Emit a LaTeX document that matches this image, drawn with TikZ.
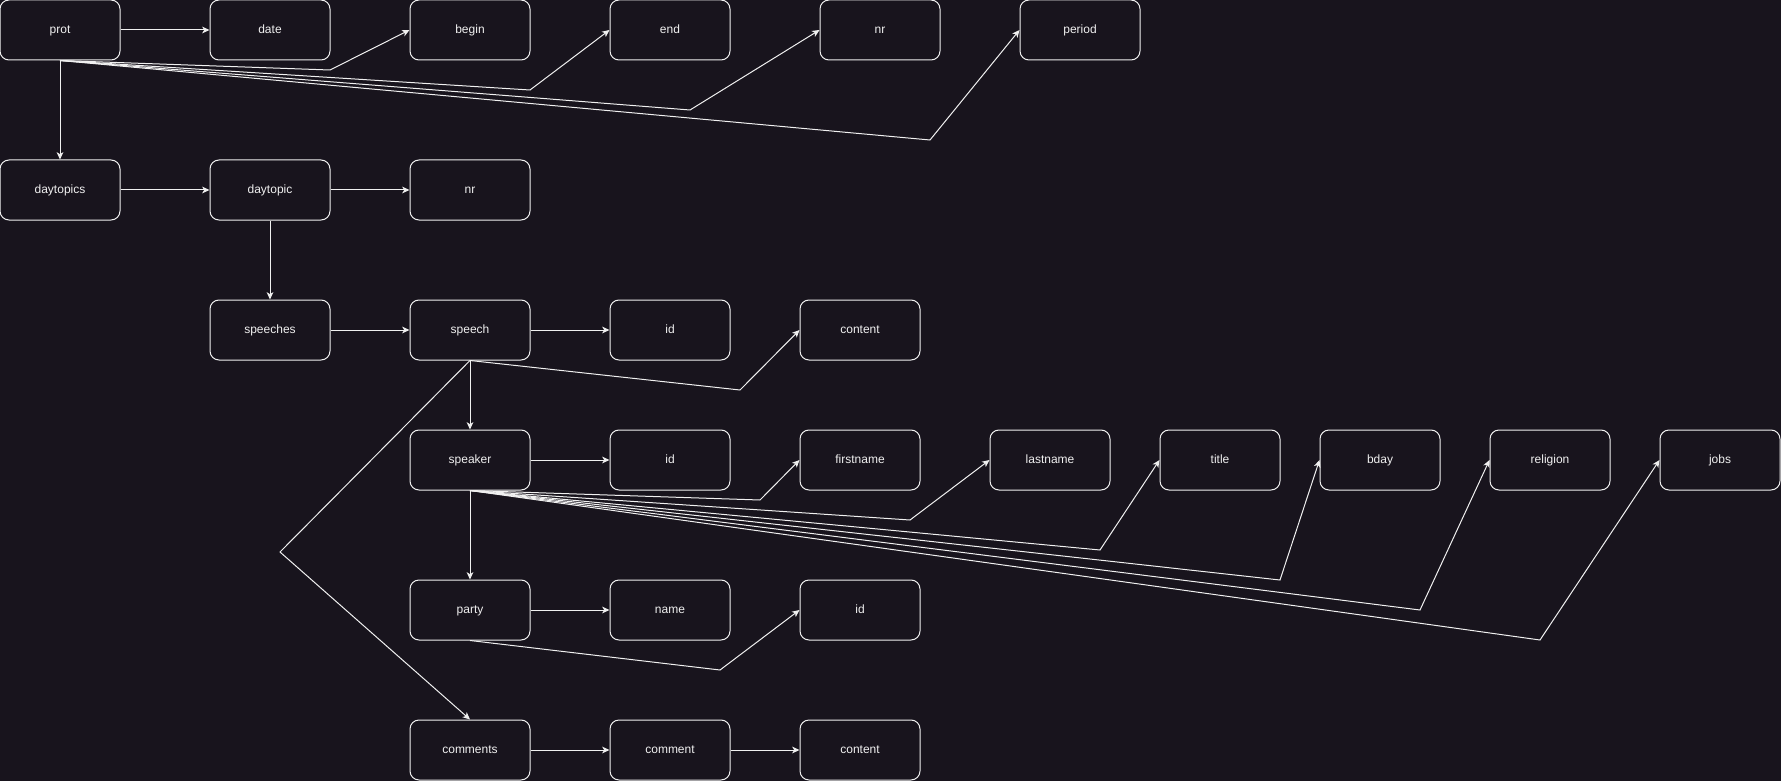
\documentclass[tikz,border=0pt]{standalone}
\usepackage{fontspec}
\setmainfont{Liberation Sans}
\usepackage{tikz}
\usetikzlibrary{arrows.meta}

\definecolor{canvas}{HTML}{18141D}
\definecolor{ink}{HTML}{F0F0F0}

\tikzset{
  field/.style={draw=ink, fill=canvas, text=ink, rounded corners=6.75pt,
    minimum width=90pt, minimum height=45pt, inner sep=0pt,
    text height=1.45ex, text depth=.4ex,
    line width=0.75pt, font=\fontsize{9}{11}\selectfont},
  link/.style={->, draw=ink, line width=0.75pt},
}

\begin{document}
\begin{tikzpicture}[>={Stealth[length=5.5pt,width=5pt,inset=1.5pt]}, x=0.75pt, y=-0.75pt]
        \useasboundingbox (0,0) rectangle (1781,781);
        \fill[canvas] (0,0) rectangle (1781,781);
        % protocol
        \node[field] (prot)      at (60,30)   {prot};
        \node[field] (date)      at (270,30)  {date};
        \node[field] (pbegin)    at (470,30)  {begin};
        \node[field] (pend)      at (670,30)  {end};
        \node[field] (protnr)    at (880,30)  {nr};
        \node[field] (period)    at (1080,30) {period};
        % day topics
        \node[field] (daytopics) at (60,190)  {daytopics};
        \node[field] (daytopic)  at (270,190) {daytopic};
        \node[field] (topicnr)   at (470,190) {nr};
        % speeches
        \node[field] (speeches)  at (270,330) {speeches};
        \node[field] (speech)    at (470,330) {speech};
        \node[field] (speechid)  at (670,330) {id};
        \node[field] (speechtxt) at (860,330) {content};
        % speaker
        \node[field] (speaker)   at (470,460)  {speaker};
        \node[field] (spkid)     at (670,460)  {id};
        \node[field] (firstname) at (860,460)  {firstname};
        \node[field] (lastname)  at (1050,460) {lastname};
        \node[field] (title)     at (1220,460) {title};
        \node[field] (bday)      at (1380,460) {bday};
        \node[field] (religion)  at (1550,460) {religion};
        \node[field] (jobs)      at (1720,460) {jobs};
        % party
        \node[field] (party)     at (470,610) {party};
        \node[field] (partyname) at (670,610) {name};
        \node[field] (partyid)   at (860,610) {id};
        % comments
        \node[field] (comments)   at (470,750) {comments};
        \node[field] (comment)    at (670,750) {comment};
        \node[field] (commenttxt) at (860,750) {content};

        \draw[link] (prot) -- (date);
        \draw[link] (prot.south) -- (330,70) -- (pbegin.west);
        \draw[link] (prot.south) -- (530,90) -- (pend.west);
        \draw[link] (prot.south) -- (690,110) -- (protnr.west);
        \draw[link] (prot.south) -- (930,140) -- (period.west);
        \draw[link] (prot) -- (daytopics);
        \draw[link] (daytopics) -- (daytopic);
        \draw[link] (daytopic) -- (topicnr);
        \draw[link] (daytopic) -- (speeches);
        \draw[link] (speeches) -- (speech);
        \draw[link] (speech) -- (speechid);
        \draw[link] (speech.south) -- (740,390) -- (speechtxt.west);
        \draw[link] (speech) -- (speaker);
        \draw[link] (speech.south) -- (280,552) -- (comments.north);
        \draw[link] (speaker) -- (spkid);
        \draw[link] (speaker.south) -- (760,500) -- (firstname.west);
        \draw[link] (speaker.south) -- (910,520) -- (lastname.west);
        \draw[link] (speaker.south) -- (1100,550) -- (title.west);
        \draw[link] (speaker.south) -- (1280,580) -- (bday.west);
        \draw[link] (speaker.south) -- (1420,610) -- (religion.west);
        \draw[link] (speaker.south) -- (1540,640) -- (jobs.west);
        \draw[link] (speaker) -- (party);
        \draw[link] (party) -- (partyname);
        \draw[link] (party.south) -- (720,670) -- (partyid.west);
        \draw[link] (comments) -- (comment);
        \draw[link] (comment) -- (commenttxt);
      \end{tikzpicture}
\end{document}
